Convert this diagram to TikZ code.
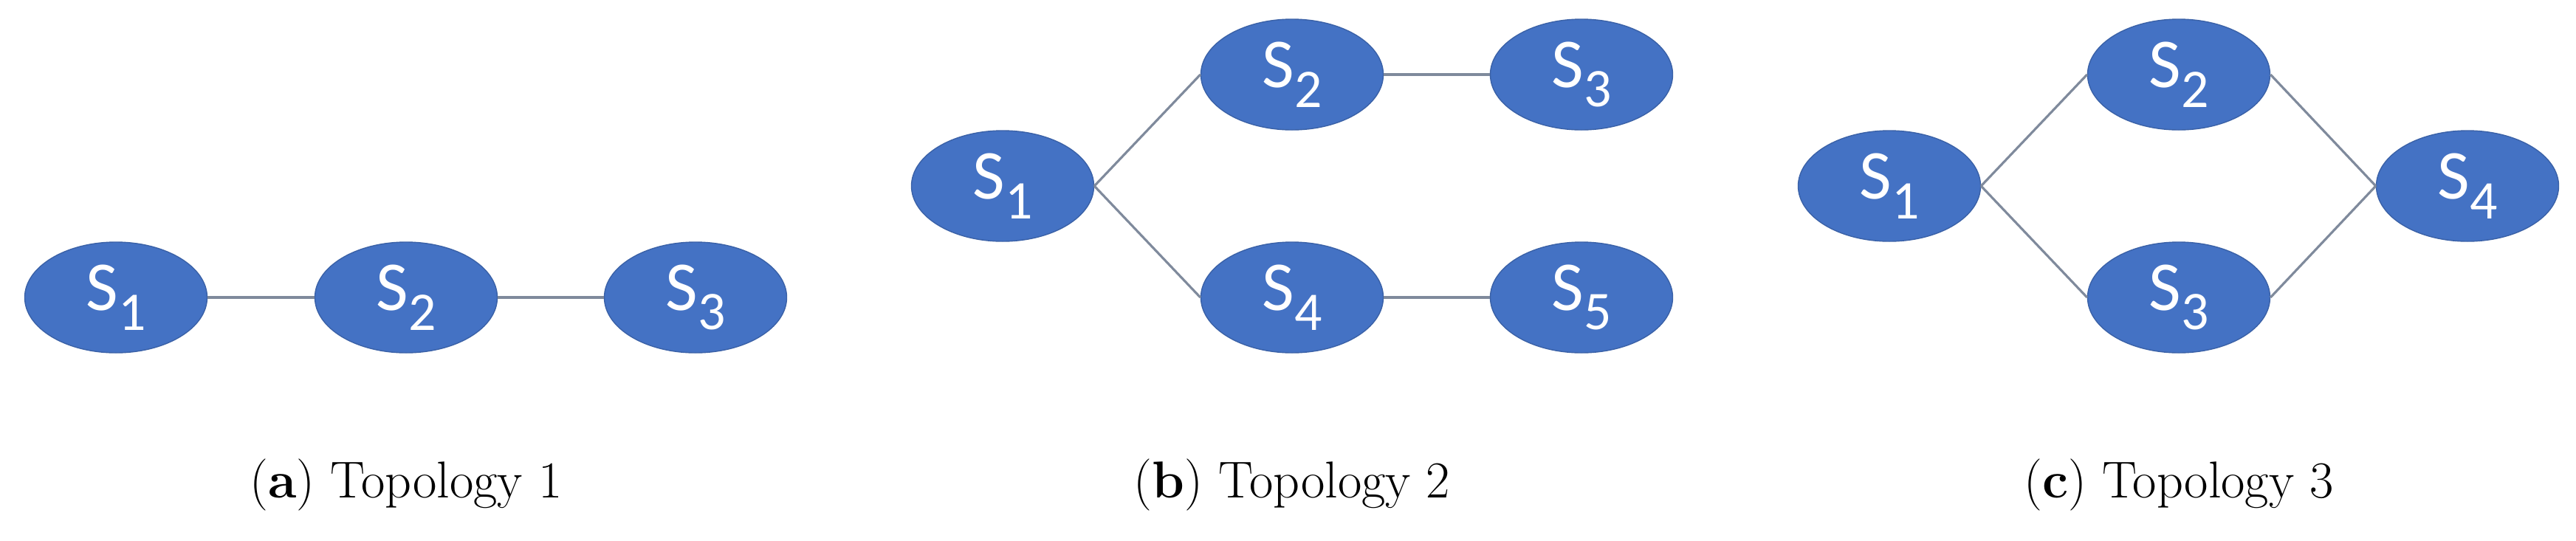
\documentclass[tikz,border=0pt]{standalone}
\usepackage{fontspec}
\newfontfamily\nodefont{Carlito}
\usetikzlibrary{shapes.geometric}
\definecolor{nodeblue}{HTML}{4472C4}
\definecolor{linkgray}{HTML}{7F8A9C}
\newcommand{\sname}[1]{S\raisebox{-0.28em}{\fontsize{21}{21}\selectfont #1}}
\begin{document}
\begin{tikzpicture}[x=1cm,y=1cm,
  sw/.style={ellipse, fill=nodeblue, draw=nodeblue!85!black, line width=0.4pt,
     minimum width=2.47cm, minimum height=1.5cm, inner sep=0pt,
     text=white, font=\nodefont\fontsize{27}{27}\selectfont},
  link/.style={draw=linkgray, line width=0.9pt},
  captxt/.style={font=\fontsize{20}{24}\selectfont, anchor=center}]
\useasboundingbox (0,0) rectangle (34.89,7.32);
% (a)
\node[sw] (a1) at (1.57,3.29) {\sname{1}};
\node[sw] (a2) at (5.50,3.29) {\sname{2}};
\node[sw] (a3) at (9.42,3.29) {\sname{3}};
\draw[link] (a1) -- (a2);
\draw[link] (a2) -- (a3);
\node[captxt] (ca) at (5.50,0.75) {(\textbf{a}) Topology 1};
% (b)
\node[sw] (b1) at (13.58,4.80) {\sname{1}};
\node[sw] (b2) at (17.50,6.31) {\sname{2}};
\node[sw] (b3) at (21.42,6.31) {\sname{3}};
\node[sw] (b4) at (17.50,3.29) {\sname{4}};
\node[sw] (b5) at (21.42,3.29) {\sname{5}};
\draw[link] (b1.east) -- (b2.west);
\draw[link] (b1.east) -- (b4.west);
\draw[link] (b2) -- (b3);
\draw[link] (b4) -- (b5);
\node[captxt] (cb) at (17.50,0.75) {(\textbf{b}) Topology 2};
% (c)
\node[sw] (c1) at (25.59,4.80) {\sname{1}};
\node[sw] (c2) at (29.51,6.31) {\sname{2}};
\node[sw] (c3) at (29.51,3.29) {\sname{3}};
\node[sw] (c4) at (33.42,4.80) {\sname{4}};
\draw[link] (c1.east) -- (c2.west);
\draw[link] (c1.east) -- (c3.west);
\draw[link] (c2.east) -- (c4.west);
\draw[link] (c3.east) -- (c4.west);
\node[captxt] (cc) at (29.51,0.75) {(\textbf{c}) Topology 3};
\end{tikzpicture}
\end{document}
